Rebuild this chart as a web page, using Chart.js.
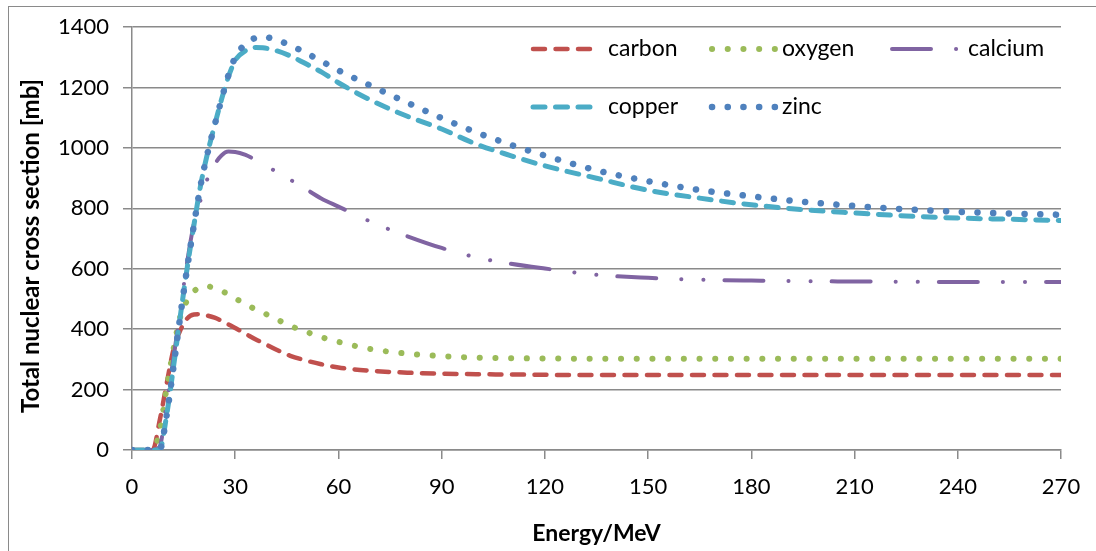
<!DOCTYPE html>
<html lang="en">
<head>
<meta charset="UTF-8">
<title>Total nuclear cross section</title>
<script src="https://cdn.jsdelivr.net/npm/chart.js"></script>
<style>
  html, body { margin: 0; padding: 0; background: #fff; }
  body { width: 1096px; height: 551px; overflow: hidden; position: relative; }
  .frame {
    position: absolute; left: 8px; top: 6px;
    width: 1200px; height: 600px;
    border: 1px solid #8a8a8a;
  }
  #wrap { position: absolute; left: 0; top: 0; width: 1096px; height: 551px; }
</style>
</head>
<body>
<div class="frame"></div>
<div id="wrap"><canvas id="chart" width="1096" height="551"></canvas></div>

<script>
// energies in MeV, shared by all series
const energy  = [0, 2, 4, 6, 8, 10, 12, 14, 16, 18, 20, 22, 24, 26, 28, 30, 33, 36, 38, 42, 46, 50, 55, 60, 70, 80, 90, 100, 110, 120, 135, 150, 165, 180, 195, 210, 225, 240, 255, 270];

// total nuclear cross section, mb
const carbon  = [0, 0, 0, 0, 95, 215, 330, 395, 435, 449, 450, 445, 438, 428, 416, 404, 385, 366, 355, 332, 312, 298, 284, 273, 262, 256, 253, 251, 250, 249, 248, 248, 248, 248, 248, 248, 248, 248, 248, 248];
const oxygen  = [0, 0, 0, 0, 60, 200, 330, 440, 495, 525, 540, 542, 535, 527, 515, 502, 483, 465, 455, 433, 411, 394, 374, 358, 333, 319, 311, 306, 304, 303, 302, 302, 302, 302, 302, 302, 302, 302, 302, 302];
const calcium = [0, 0, 0, 0, 10, 150, 300, 460, 620, 750, 830, 900, 945, 975, 988, 987, 977, 960, 948, 921, 895, 868, 833, 806, 753, 708, 669, 638, 617, 601, 580, 570, 564, 561, 559, 558, 557, 556, 556, 556];
const copper  = [0, 0, 0, 0, 0, 110, 270, 440, 600, 745, 880, 985, 1075, 1160, 1235, 1290, 1322, 1333, 1332, 1322, 1305, 1282, 1252, 1216, 1155, 1105, 1063, 1013, 975, 941, 900, 860, 834, 812, 796, 785, 775, 768, 764, 760];
const zinc    = [0, 0, 0, 0, 0, 110, 270, 440, 600, 745, 880, 985, 1075, 1160, 1240, 1300, 1345, 1365, 1368, 1358, 1340, 1318, 1288, 1257, 1203, 1150, 1099, 1052, 1011, 975, 926, 890, 861, 840, 822, 808, 797, 789, 783, 779];

const seriesNames = ['carbon', 'oxygen', 'calcium', 'copper', 'zinc'];
const seriesData = [carbon, oxygen, calcium, copper, zinc];

const yTicks = [0, 200, 400, 600, 800, 1000, 1200, 1400];
const xTicks = [0, 30, 60, 90, 120, 150, 180, 210, 240, 270];

const styles = [
  { color: '#C0504D', width: 4.5, dash: [12, 10.5] },
  { color: '#9BBB59', width: 6, dash: [0.1, 15.6] },
  { color: '#8064A2', width: 4, dash: [39, 25, 0.1, 22, 0.1, 21] },
  { color: '#4BACC6', width: 5, dash: [12, 10.5] },
  { color: '#4F81BD', width: 6.5, dash: [0.1, 15.6] }
];

const FONT = 'Lato, "Open Sans", sans-serif';
const GRID = '#8a8a8a';

const datasets = seriesNames.map((name, i) => ({
  label: name,
  data: energy.map((e, k) => ({ x: e, y: seriesData[i][k] })),
  borderColor: styles[i].color,
  backgroundColor: styles[i].color,
  borderWidth: styles[i].width,
  borderDash: styles[i].dash,
  borderCapStyle: 'round',
  borderJoinStyle: 'round',
  pointRadius: 0,
  cubicInterpolationMode: 'monotone',
  fill: false,
  order: seriesNames.length - i   // later series drawn on top, like the original
}));

// legend drawn in a 3-column grid inside the plot
const legendSpots = [
  { x0: 533, x1: 592, tx: 608, y: 49 },
  { x0: 712, x1: 775, tx: 782, y: 49 },
  { x0: 892, x1: 957, tx: 968, y: 49 },
  { x0: 533, x1: 592, tx: 608, y: 107 },
  { x0: 712, x1: 775, tx: 782, y: 107 }
];

const gridLegend = {
  id: 'gridLegend',
  afterDraw(chart) {
    const ctx = chart.ctx;
    chart.data.datasets.forEach((ds, i) => {
      const s = legendSpots[i];
      ctx.save();
      ctx.strokeStyle = ds.borderColor;
      ctx.lineWidth = ds.borderWidth;
      ctx.lineCap = 'round';
      ctx.setLineDash(ds.borderDash);
      ctx.beginPath();
      ctx.moveTo(s.x0, s.y);
      ctx.lineTo(s.x1, s.y);
      ctx.stroke();
      ctx.setLineDash([]);
      ctx.fillStyle = '#000';
      ctx.font = '23px ' + FONT;
      ctx.textBaseline = 'middle';
      ctx.fillText(ds.label, s.tx, s.y);
      ctx.restore();
    });

    // y-axis title (sits a little below the plot centre in the original)
    ctx.save();
    ctx.translate(31, 246);
    ctx.rotate(-Math.PI / 2);
    ctx.fillStyle = '#000';
    ctx.font = 'bold 24px ' + FONT;
    ctx.textAlign = 'center';
    ctx.textBaseline = 'middle';
    ctx.fillText('Total nuclear cross section [mb]', 0, 0);
    ctx.restore();
  }
};

new Chart(document.getElementById('chart'), {
  type: 'line',
  data: { datasets },
  options: {
    responsive: false,
    animation: false,
    devicePixelRatio: 1,
    layout: { padding: { left: 0, top: 22, right: 35, bottom: 0 } },
    plugins: { legend: { display: false }, tooltip: { enabled: false } },
    scales: {
      x: {
        type: 'linear',
        min: 0, max: 270,
        afterBuildTicks: s => { s.ticks = xTicks.map(v => ({ value: v })); },
        afterFit: s => { s.height = 101; },
        grid: { drawOnChartArea: false, color: GRID, lineWidth: 1.5, tickLength: 9 },
        border: { color: GRID, width: 1.5 },
        ticks: { color: '#000', font: { family: FONT, size: 22 }, padding: 15, maxRotation: 0,
                 callback: v => String(v) },
        title: {
          display: true, text: 'Energy/MeV', color: '#000',
          font: { family: FONT, size: 23, weight: 'bold' },
          padding: { top: 0, bottom: 4 }
        }
      },
      y: {
        min: 0, max: 1400,
        afterBuildTicks: s => { s.ticks = yTicks.map(v => ({ value: v })); },
        afterFit: s => { s.width = 132; },
        grid: { color: GRID, lineWidth: 1.5, tickLength: 9 },
        border: { color: GRID, width: 1.5 },
        ticks: { color: '#000', font: { family: FONT, size: 22 }, padding: 14,
                 callback: v => String(v) }
      }
    }
  },
  plugins: [gridLegend]
});
</script>
</body>
</html>
